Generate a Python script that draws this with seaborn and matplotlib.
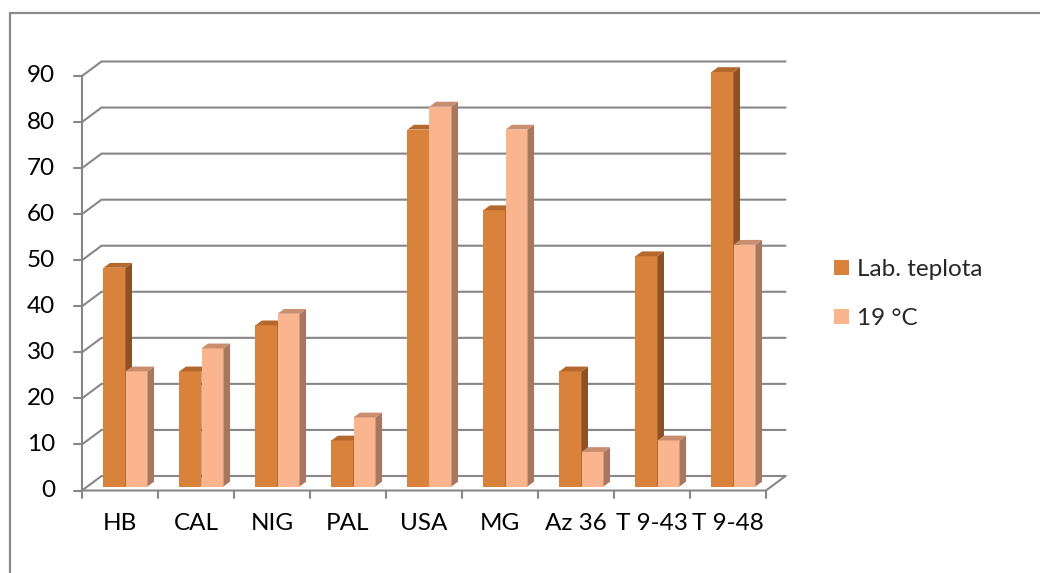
import matplotlib
matplotlib.use("Agg")
import matplotlib.pyplot as plt
import pandas as pd
import seaborn as sns
from matplotlib.patches import Polygon, Patch
from matplotlib.lines import Line2D

# Data
categories = ["HB", "CAL", "NIG", "PAL", "USA", "MG", "Az 36", "T 9-43", "T 9-48"]
lab_teplota = [47.5, 25, 35, 10, 77.5, 60, 25, 50, 90]
temp_19 = [25, 30, 37.5, 15, 82.5, 77.5, 7.5, 10, 52.5]
series_names = ["Lab. teplota", "19 °C"]
y_ticks = list(range(0, 91, 10))

# Colours: front face, side face, top face per series
front_colors = ["#D9823B", "#FAB48E"]
side_colors = ["#8C5124", "#A7785F"]
top_colors = ["#B4682C", "#C98D70"]
grid_color = "#878787"

df = pd.DataFrame({
    "kategorie": categories * 2,
    "hodnota": lab_teplota + temp_19,
    "serie": [series_names[0]] * len(categories) + [series_names[1]] * len(categories),
})

sns.set_theme(style="white")
plt.rcParams["font.family"] = ["Lato", "DejaVu Sans"]
FS = 17.5

W, H = 1040, 573
fig = plt.figure(figsize=(W / 100, H / 100), dpi=100)
fig.patch.set_facecolor("white")

# axes = plane in which the bar front faces sit
ax_left, ax_bottom, ax_w, ax_h = 87.5, 86.5, 684, 414.5
ax = fig.add_axes([ax_left / W, ax_bottom / H, ax_w / W, ax_h / H])

# pixel -> data conversion
ux = len(categories) / ax_w
uy = 90 / ax_h

def px(dx, dy):
    return dx * ux, dy * uy

fx, fy = px(-5.5, -4.0)     # front plane (axis line, floor front edge)
bx, by = px(14.0, 10.5)     # back wall
dx, dy = px(6.5, 4.8)       # bar depth

sns.barplot(data=df, x="kategorie", y="hodnota", hue="serie",
            palette=front_colors, saturation=1, width=0.58,
            linewidth=0, legend=False, ax=ax)
ax.set_xlim(-0.5, len(categories) - 0.5)
ax.set_ylim(0, 90)
ax.axis("off")

lw = 1.5
xmin, xmax = -0.5, len(categories) - 0.5

# back wall gridlines with their diagonal on the left side wall
for v in y_ticks:
    ax.add_line(Line2D([xmin + fx, xmin + bx, xmax + bx], [v + fy, v + by, v + by],
                       color=grid_color, lw=lw, zorder=0.5, clip_on=False,
                       solid_joinstyle="miter"))

# floor
ax.add_line(Line2D([xmin + fx, xmax + fx, xmax + bx], [fy, fy, by],
                   color=grid_color, lw=lw, zorder=0.6, clip_on=False))
# front value axis
ax.add_line(Line2D([xmin + fx, xmin + fx], [fy, 90 + fy],
                   color=grid_color, lw=lw, zorder=0.6, clip_on=False))
tick_x, _ = px(-8.5, 0)
lab_x, _ = px(-27, 0)
for v in y_ticks:
    ax.add_line(Line2D([xmin + fx + tick_x, xmin + fx], [v + fy, v + fy],
                       color=grid_color, lw=lw, zorder=0.6, clip_on=False))
    ax.text(xmin + fx + lab_x, v + fy, str(v), ha="right", va="center",
            fontsize=FS, color="black", clip_on=False)

# category axis ticks and labels
_, tick_y = px(0, -7)
_, clab_y = px(0, -33)
for i in range(len(categories) + 1):
    xb = i - 0.5 + fx
    ax.add_line(Line2D([xb, xb], [fy, fy + tick_y], color=grid_color, lw=lw,
                       zorder=0.6, clip_on=False))
for i, c in enumerate(categories):
    ax.text(i + fx, fy + clab_y, c, ha="center", va="center", fontsize=FS,
            color="black", clip_on=False)

# 3D side and top faces of the columns
for s, cont in enumerate(ax.containers):
    z = 2 + s
    for bar in cont:
        bar.set_zorder(z)
        bar.set_clip_on(False)
        x0, w, h = bar.get_x(), bar.get_width(), bar.get_height()
        side = Polygon([(x0 + w, 0), (x0 + w + dx, dy), (x0 + w + dx, h + dy), (x0 + w, h)],
                       closed=True, facecolor=side_colors[s], edgecolor="none",
                       zorder=z, clip_on=False)
        top = Polygon([(x0, h), (x0 + dx, h + dy), (x0 + w + dx, h + dy), (x0 + w, h)],
                      closed=True, facecolor=top_colors[s], edgecolor="none",
                      zorder=z, clip_on=False)
        ax.add_patch(side)
        ax.add_patch(top)

# legend
handles = [Patch(facecolor=c, edgecolor="none") for c in front_colors]
fig.legend(handles, series_names, loc="center left",
           bbox_to_anchor=(812 / W, 1 - 294 / H), frameon=False, fontsize=FS,
           handlelength=0.62, handleheight=0.62, handletextpad=0.35,
           labelspacing=1.15)

# outer chart border (top and left edges)
fig.add_artist(Line2D([9.5 / W, 9.5 / W], [0, 1 - 12.5 / H], transform=fig.transFigure,
                      color="#8A8A8A", lw=1.6))
fig.add_artist(Line2D([9.5 / W, 1], [1 - 12.5 / H, 1 - 12.5 / H], transform=fig.transFigure,
                      color="#8A8A8A", lw=1.6))

fig.savefig("out.png", dpi=100, facecolor="white")
